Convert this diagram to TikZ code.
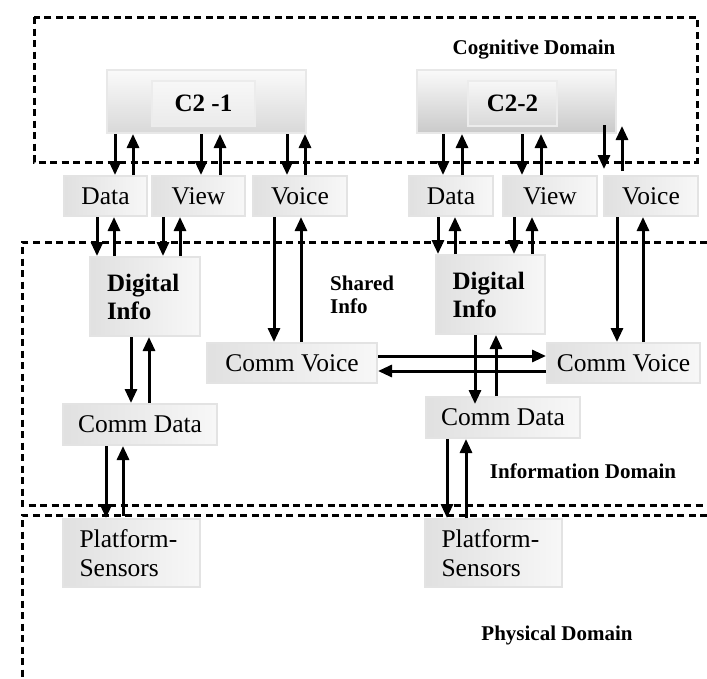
\documentclass[tikz,border=0pt]{standalone}
\usepackage{fontspec}
\setmainfont{Liberation Serif}
\usetikzlibrary{arrows.meta}
\begin{document}
\begin{tikzpicture}[x=1pt,y=-1pt,
  dom/.style={draw=black,line width=3pt,dash pattern=on 7pt off 4.5pt},
  gbox/.style={draw=gray!22,line width=2pt,left color=gray!24,right color=gray!6,
    inner sep=0pt,font=\fontsize{25.5}{27}\selectfont},
  c2out/.style={draw=gray!18,line width=2pt,top color=gray!4,bottom color=gray!30,inner sep=0pt},
  c2in/.style={draw=gray!15,line width=2pt,top color=gray!6,bottom color=gray!16,inner sep=0pt,
    font=\bfseries\fontsize{25}{27}\selectfont},
  arr/.style={line width=3pt,-{Triangle[width=12pt,length=14pt]}},
  lbl/.style={font=\bfseries\fontsize{21}{23}\selectfont,inner sep=0pt}
]
\useasboundingbox (0,0) rectangle (707,678);
% domains
\draw[dom] (34,17) rectangle (697,162);
\draw[dom] (707,242) -- (22,242) -- (22,505) -- (707,505);
\draw[dom] (707,515) -- (22,515) -- (22,678);
% labels
\node[lbl] (cog) at (534,50) {Cognitive Domain};
\node[lbl,align=left,anchor=north west] (shared) at (330,276) {Shared\\Info};
\node[lbl] (infod) at (583,471) {Information Domain};
\node[lbl] (phys) at (557,635) {Physical Domain};
% C2 boxes
\node[c2out,minimum width=199pt,minimum height=63pt] (c1) at (206.5,101.5) {};
\node[c2in,minimum width=103pt,minimum height=45pt] (c1i) at (203.5,103.5) {C2 -1};
\node[c2out,bottom color=gray!42,minimum width=199pt,minimum height=63pt] (c2) at (516.5,101.5) {};
\node[c2in,bottom color=gray!30,minimum width=89pt,minimum height=45pt] (c2i) at (512.5,103.5) {C2-2};
% first row
\node[gbox,minimum width=83pt,minimum height=40pt] (d1) at (105.5,196) {Data};
\node[gbox,minimum width=93pt,minimum height=40pt] (v1) at (198.5,196) {View};
\node[gbox,minimum width=94pt,minimum height=40pt] (o1) at (300,196) {Voice};
\node[gbox,minimum width=84pt,minimum height=40pt] (d2) at (451,196) {Data};
\node[gbox,minimum width=94pt,minimum height=40pt] (v2) at (550,196) {View};
\node[gbox,minimum width=94pt,minimum height=40pt] (o2) at (651,196) {Voice};
% digital info
\node[gbox,minimum width=110pt,minimum height=79pt,align=left,text width=76pt,
  font=\bfseries\fontsize{25}{28}\selectfont] (di1) at (145,296.5) {Digital\\Info};
\node[gbox,minimum width=109pt,minimum height=79pt,align=left,text width=76pt,
  font=\bfseries\fontsize{25}{28}\selectfont] (di2) at (490.5,294.5) {Digital\\Info};
% comm voice
\node[gbox,minimum width=170pt,minimum height=40pt] (cv1) at (292,363) {Comm Voice};
\node[gbox,minimum width=153pt,minimum height=40pt] (cv2) at (623.5,363) {Comm Voice};
% comm data
\node[gbox,minimum width=154pt,minimum height=41pt] (cd1) at (140,424.5) {Comm Data};
\node[gbox,minimum width=154pt,minimum height=41pt] (cd2) at (503,417.5) {Comm Data};
% platform
\node[gbox,minimum width=137pt,minimum height=68pt,align=left,text width=104pt,
  font=\fontsize{25.5}{29}\selectfont] (p1) at (131.5,553) {Platform-\\Sensors};
\node[gbox,minimum width=137pt,minimum height=68pt,align=left,text width=104pt,
  font=\fontsize{25.5}{29}\selectfont] (p2) at (493.5,553) {Platform-\\Sensors};
% arrows C2-1 <-> row
\draw[arr] (115,0 |- c1.south) -- (115,0 |- d1.north);
\draw[arr] (133,0 |- d1.north) -- (133,0 |- c1.south);
\draw[arr] (201,0 |- c1.south) -- (201,0 |- v1.north);
\draw[arr] (220,0 |- v1.north) -- (220,0 |- c1.south);
\draw[arr] (287,0 |- c1.south) -- (287,0 |- o1.north);
\draw[arr] (305,0 |- o1.north) -- (305,0 |- c1.south);
% arrows C2-2 <-> row
\draw[arr] (443,0 |- c2.south) -- (443,0 |- d2.north);
\draw[arr] (462,0 |- d2.north) -- (462,0 |- c2.south);
\draw[arr] (522,0 |- c2.south) -- (522,0 |- v2.north);
\draw[arr] (541,0 |- v2.north) -- (541,0 |- c2.south);
\coordinate (vd) at (604,125);
\coordinate (ve) at (604,169);
\coordinate (vu) at (622,171);
\coordinate (vv) at (622,126);
\draw[arr] (vd) -- (ve);
\draw[arr] (vu) -- (vv);
% row -> digital info 1
\draw[arr] (97,0 |- d1.south) -- (97,0 |- di1.north);
\draw[arr] (114,0 |- di1.north) -- (114,0 |- d1.south);
\draw[arr] (163,0 |- v1.south) -- (163,0 |- di1.north);
\draw[arr] (180,0 |- di1.north) -- (180,0 |- v1.south);
% row -> digital info 2
\draw[arr] (438,0 |- d2.south) -- (438,0 |- di2.north);
\draw[arr] (455,0 |- di2.north) -- (455,0 |- d2.south);
\draw[arr] (514,0 |- v2.south) -- (514,0 |- di2.north);
\draw[arr] (532,0 |- di2.north) -- (532,0 |- v2.south);
% voice -> comm voice
\draw[arr] (274,0 |- o1.south) -- (274,0 |- cv1.north);
\draw[arr] (301,0 |- cv1.north) -- (301,0 |- o1.south);
\draw[arr] (617,0 |- o2.south) -- (617,0 |- cv2.north);
\draw[arr] (643,0 |- cv2.north) -- (643,0 |- o2.south);
% comm voice exchange
\draw[arr] (cv1.east |- 0,356) -- (cv2.west |- 0,356);
\draw[arr] (cv2.west |- 0,371) -- (cv1.east |- 0,371);
% digital info -> comm data
\draw[arr] (131,0 |- di1.south) -- (131,0 |- cd1.north);
\draw[arr] (149,0 |- cd1.north) -- (149,0 |- di1.south);
\draw[arr] (475,0 |- di2.south) -- (475,404);
\draw[arr] (496,0 |- cd2.north) -- (496,0 |- di2.south);
% comm data -> platform
\draw[arr] (106,0 |- cd1.south) -- (106,0 |- p1.north);
\draw[arr] (123,516) -- (123,0 |- cd1.south);
\draw[arr] (447,0 |- cd2.south) -- (447,0 |- p2.north);
\draw[arr] (466,0 |- p2.north) -- (466,0 |- cd2.south);
\end{tikzpicture}
\end{document}
